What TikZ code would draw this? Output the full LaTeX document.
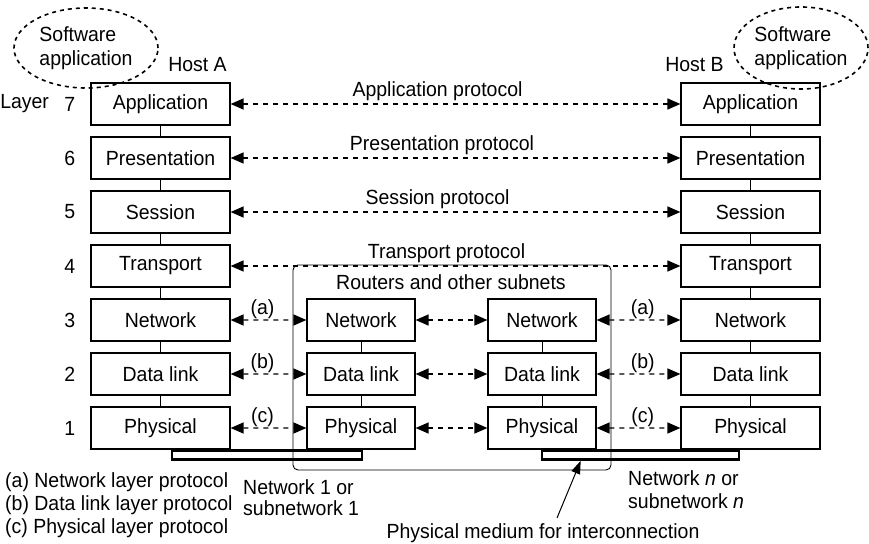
\documentclass[tikz,border=0pt]{standalone}
\usepackage{fontspec}
\setmainfont{Liberation Sans}[FakeStretch=0.95]
\usetikzlibrary{shapes.geometric, arrows.meta, positioning, calc}

\begin{document}
\begin{tikzpicture}[x=1pt, y=-1pt,
    every node/.style={font=\fontsize{20.5}{20}\selectfont, inner sep=3pt},
    layerbox/.style={draw, line width=1.2pt, minimum width=139pt,
                     minimum height=42pt, inner sep=0pt},
    routerbox/.style={layerbox, minimum width=108pt},
    link/.style={line width=1pt},
    tip/.tip={Triangle[length=13pt,width=11pt]},
    proto/.style={line width=1.3pt, dash pattern=on 5pt off 5pt, tip-tip},
    tag/.style={above, inner sep=1pt},
    swapp/.style={ellipse, draw, line width=1.6pt, dash pattern=on 4pt off 4pt,
                  align=left, inner sep=0pt, font=\fontsize{20.5}{24}\selectfont},
    frame/.style={line width=0.9pt, rounded corners=5pt},
    netbar/.style={draw, line width=2.6pt, minimum height=9pt, inner sep=0pt},
    pointer/.style={line width=1pt, -{Triangle[length=13pt,width=9pt]}},
    note/.style={align=left, inner sep=0pt, anchor=north west}
]
    \useasboundingbox (0,0) rectangle (869,543);

    % Host A stack
    \node[layerbox] (appA) at (160.5,104) {Application};
    \node[layerbox, below=10.8pt of appA] (presA) {Presentation};
    \node[layerbox, below=10.8pt of presA] (sesA) {Session};
    \node[layerbox, below=10.8pt of sesA] (transA) {Transport};
    \node[layerbox, below=10.8pt of transA] (netA) {Network};
    \node[layerbox, below=10.8pt of netA] (dlA) {Data link};
    \node[layerbox, below=10.8pt of dlA] (physA) {Physical};

    % Host B stack
    \node[layerbox] (appB) at (750.5,104) {Application};
    \node[layerbox, below=10.8pt of appB] (presB) {Presentation};
    \node[layerbox, below=10.8pt of presB] (sesB) {Session};
    \node[layerbox, below=10.8pt of sesB] (transB) {Transport};
    \node[layerbox, below=10.8pt of transB] (netB) {Network};
    \node[layerbox, below=10.8pt of netB] (dlB) {Data link};
    \node[layerbox, below=10.8pt of dlB] (physB) {Physical};

    % routers
    \node[routerbox] (netR1) at (361,320) {Network};
    \node[routerbox, below=10.8pt of netR1] (dlR1) {Data link};
    \node[routerbox, below=10.8pt of dlR1] (physR1) {Physical};
    \node[routerbox, right=71.8pt of netR1] (netR2) {Network};
    \node[routerbox, below=10.8pt of netR2] (dlR2) {Data link};
    \node[routerbox, below=10.8pt of dlR2] (physR2) {Physical};

    \draw[frame] (293,265) rectangle (611,470);
    \node (routers) at (451,282) {Routers and other subnets};

    % layer numbers
    \foreach \stage/\num in {appA/7, presA/6, sesA/5, transA/4, netA/3, dlA/2, physA/1}
        \node[left=12pt of \stage] (lay\num) {\num};
    \node[left=9pt of lay7] (layer) {Layer};

    \node[above=8pt of appA, xshift=37pt] (hostA) {Host A};
    \node[above=8pt of appB, xshift=-56pt] (hostB) {Host B};

    \node[swapp, minimum width=144pt, minimum height=80pt] (swA) at (86,48)
        {Software\\application};
    \node[swapp, minimum width=134pt, minimum height=82pt] (swB) at (801,48)
        {Software\\application};

    % vertical links
    \foreach \upper/\lower in {appA/presA, presA/sesA, sesA/transA, transA/netA,
            netA/dlA, dlA/physA, appB/presB, presB/sesB, sesB/transB,
            transB/netB, netB/dlB, dlB/physB, netR1/dlR1, dlR1/physR1,
            netR2/dlR2, dlR2/physR2}
        \draw[link] (\upper) -- (\lower);

    % end-to-end protocols
    \draw[proto] (appA) -- node[above, pos=0.46] {Application protocol} (appB);
    \draw[proto] (presA) -- node[above, pos=0.47] {Presentation protocol} (presB);
    \draw[proto] (sesA) -- node[above, pos=0.46] {Session protocol} (sesB);
    \draw[proto] (transA) -- node[above, pos=0.48] {Transport protocol} (transB);

    % hop-by-hop protocols
    \draw[proto] (netA) -- node[tag, pos=0.42] {(a)} (netR1);
    \draw[proto] (netR1) -- (netR2);
    \draw[proto] (netR2) -- node[tag, pos=0.55] {(a)} (netB);
    \draw[proto] (dlA) -- node[tag, pos=0.42] {(b)} (dlR1);
    \draw[proto] (dlR1) -- (dlR2);
    \draw[proto] (dlR2) -- node[tag, pos=0.55] {(b)} (dlB);
    \draw[proto] (physA) -- node[tag, pos=0.42] {(c)} (physR1);
    \draw[proto] (physR1) -- (physR2);
    \draw[proto] (physR2) -- node[tag, pos=0.55] {(c)} (physB);

    % networks
    \node[netbar, minimum width=190pt] (net1) at (267,455) {};
    \node[netbar, minimum width=197pt] (netn) at (640.5,455) {};

    \node[note, font=\fontsize{20.5}{23}\selectfont] (legend) at (5,472)
        {(a) Network layer protocol\\(b) Data link layer protocol\\(c) Physical layer protocol};
    \node[note, font=\fontsize{20.5}{21.5}\selectfont] (net1lbl) at (243,479)
        {Network 1 or\\subnetwork 1};
    \node[note, font=\fontsize{20.5}{23}\selectfont] (netnlbl) at (628,470)
        {Network \emph{n} or\\subnetwork \emph{n}};
    \node[anchor=base] (medium) at (543,538) {Physical medium for interconnection};
    \draw[pointer] ($(medium.north)+(14,-2)$) -- ($(netn.south west)+(40,0)$);
\end{tikzpicture}
\end{document}
